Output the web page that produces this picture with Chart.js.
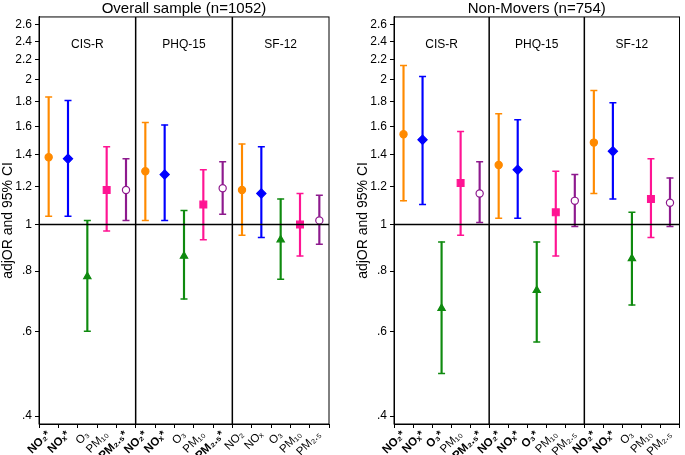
<!DOCTYPE html>
<html>
<head>
<meta charset="utf-8">
<script src="https://cdn.jsdelivr.net/npm/chart.js@4.4.1/dist/chart.umd.min.js"></script>
<style>
  body { margin: 0; background: #fff; }
  #wrap { position: relative; width: 685px; height: 455px; }
  #left { position: absolute; left: 0; top: 0; }
  #right { position: absolute; left: 342px; top: 0; }
</style>
</head>
<body>
<div id="wrap">
  <canvas id="left" width="342" height="455"></canvas>
  <canvas id="right" width="343" height="455"></canvas>
</div>
<script>
// outcome groups and pollutants
var groups = ["CIS-R", "PHQ-15", "SF-12"];
var overallLabels = ["NO₂*", "NOₓ*", "O₃", "PM₁₀", "PM₂.₅*",
                     "NO₂*", "NOₓ*", "O₃", "PM₁₀", "PM₂.₅*",
                     "NO₂", "NOₓ", "O₃", "PM₁₀", "PM₂.₅"];
var moversLabels = ["NO₂*", "NOₓ*", "O₃*", "PM₁₀", "PM₂.₅*",
                    "NO₂*", "NOₓ*", "O₃*", "PM₁₀", "PM₂.₅",
                    "NO₂*", "NOₓ*", "O₃", "PM₁₀", "PM₂.₅"];

// Overall sample (n=1052)
var overallEst = [1.38, 1.37, 0.78, 1.18, 1.18,  1.29, 1.27, 0.86, 1.10, 1.19,  1.18, 1.16, 0.93, 1.00, 1.02];
var overallLo  = [1.04, 1.04, 0.60, 0.97, 1.02,  1.02, 1.02, 0.70, 0.93, 1.05,  0.95, 0.94, 0.77, 0.86, 0.91];
var overallHi  = [1.84, 1.81, 1.02, 1.45, 1.37,  1.63, 1.61, 1.07, 1.30, 1.35,  1.47, 1.45, 1.13, 1.16, 1.15];

// Non-Movers (n=754)
var moversEst = [1.54, 1.50, 0.67, 1.22, 1.16,  1.33, 1.30, 0.73, 1.06, 1.12,  1.48, 1.42, 0.85, 1.13, 1.11];
var moversLo  = [1.12, 1.10, 0.49, 0.95, 1.01,  1.03, 1.03, 0.57, 0.86, 0.99,  1.16, 1.13, 0.68, 0.94, 0.99];
var moversHi  = [2.14, 2.03, 0.92, 1.56, 1.35,  1.70, 1.65, 0.92, 1.29, 1.27,  1.90, 1.79, 1.06, 1.37, 1.25];

var yTicks = [0.4, 0.6, 0.8, 1, 1.2, 1.4, 1.6, 1.8, 2, 2.2, 2.4, 2.6];

var colors = ["#ff8a00", "#0000ff", "#0f8a0f", "#ff1493", "#8e1a8e"];
var styles = ["circle", "rectRot", "triangle", "rect", "circle"];
var fills  = ["#ff8a00", "#0000ff", "#0f8a0f", "#ff1493", "#ffffff"];
var radii  = [3.6, 4.6, 4.2, 4.8, 3.6];

Chart.defaults.font.family = "'Liberation Sans', Arial, sans-serif";
Chart.defaults.color = "#000";

function perPoint(arr) {
    var out = [];
    for (var i = 0; i < 15; i++) out.push(arr[i % 5]);
    return out;
}

var framePlugin = {
    id: "frame",
    afterDatasetsDraw: function(chart) {
        var ctx = chart.ctx, a = chart.chartArea;
        var x = chart.scales.x, y = chart.scales.y;
        ctx.save();
        ctx.strokeStyle = "#000";
        ctx.lineWidth = 1.5;
        // reference line at 1
        var y1 = y.getPixelForValue(1);
        ctx.beginPath();
        ctx.moveTo(a.left, y1);
        ctx.lineTo(a.right, y1);
        ctx.stroke();
        // group dividers
        [4.5, 9.5].forEach(function(v) {
            var px = x.getPixelForValue(v);
            ctx.beginPath();
            ctx.moveTo(px, a.top);
            ctx.lineTo(px, a.bottom);
            ctx.stroke();
        });
        ctx.lineWidth = 1;
        ctx.strokeRect(a.left, a.top, a.right - a.left, a.bottom - a.top);
        // group names
        ctx.fillStyle = "#000";
        ctx.font = "12px 'Liberation Sans', Arial, sans-serif";
        ctx.textAlign = "center";
        ctx.textBaseline = "middle";
        groups.forEach(function(g, i) {
            ctx.fillText(g, x.getPixelForValue(i * 5 + 2), y.getPixelForValue(2.37));
        });
        ctx.restore();
    }
};

function makeChart(id, title, labels, est, lo, hi, padLeft, padRight) {
    var ctx = document.getElementById(id).getContext("2d");
    var col = perPoint(colors);
    return new Chart(ctx, {
        data: {
            labels: labels,
            datasets: [{
                type: "bar",
                data: lo.map(function(l, i) { return [l, hi[i]]; }),
                backgroundColor: col,
                barThickness: 1.5,
                order: 3
            }, {
                type: "line",
                data: hi,
                showLine: false,
                pointStyle: "line",
                pointRadius: 3.5,
                pointBorderColor: col,
                pointBorderWidth: 1.5,
                order: 2
            }, {
                type: "line",
                data: lo,
                showLine: false,
                pointStyle: "line",
                pointRadius: 3.5,
                pointBorderColor: col,
                pointBorderWidth: 1.5,
                order: 2
            }, {
                type: "line",
                data: est,
                showLine: false,
                pointStyle: perPoint(styles),
                pointRadius: perPoint(radii),
                pointBackgroundColor: perPoint(fills),
                pointBorderColor: col,
                pointBorderWidth: 1.2,
                order: 1
            }]
        },
        options: {
            responsive: false,
            animation: false,
            layout: { padding: { left: padLeft, right: padRight, top: 0, bottom: 0 } },
            plugins: {
                legend: { display: false },
                tooltip: { enabled: false },
                title: {
                    display: true,
                    text: title,
                    fullSize: false,
                    font: { size: 15, weight: "normal", lineHeight: 1.13 },
                    padding: { top: 0, bottom: 0 },
                    color: "#000"
                }
            },
            scales: {
                x: {
                    type: "category",
                    offset: true,
                    grid: { drawOnChartArea: false, drawTicks: true, tickLength: 4, color: "#000" },
                    border: { display: true, color: "#000", width: 1 },
                    ticks: {
                        autoSkip: false,
                        minRotation: 45,
                        maxRotation: 45,
                        padding: 0,
                        color: "#000",
                        font: function(c) {
                            var bold = String(labels[c.index]).indexOf("*") >= 0;
                            return { size: 11.5, weight: bold ? "bold" : "normal" };
                        }
                    },
                    afterFit: function(s) { s.height = 31; }
                },
                y: {
                    type: "logarithmic",
                    min: 0.385,
                    max: 2.70,
                    grid: { drawOnChartArea: false, drawTicks: true, tickLength: 4, color: "#000" },
                    border: { display: true, color: "#000", width: 1 },
                    afterBuildTicks: function(s) {
                        s.ticks = yTicks.map(function(v) { return { value: v }; });
                    },
                    ticks: {
                        font: { size: 12 },
                        color: "#000",
                        padding: 3,
                        callback: function(v) {
                            var s = String(Math.round(v * 10) / 10);
                            return v < 1 ? s.replace("0.", ".") : s;
                        }
                    },
                    title: {
                        display: true,
                        text: "adjOR and 95% CI",
                        font: { size: 14 },
                        color: "#000",
                        padding: { top: 0, bottom: 0 }
                    },
                    afterFit: function(s) { s.width = 39; }
                }
            }
        },
        plugins: [framePlugin]
    });
}

makeChart("left", "Overall sample (n=1052)", overallLabels, overallEst, overallLo, overallHi, 0, 13);
makeChart("right", "Non-Movers (n=754)", moversLabels, moversEst, moversLo, moversHi, 13, 1);
</script>
</body>
</html>
